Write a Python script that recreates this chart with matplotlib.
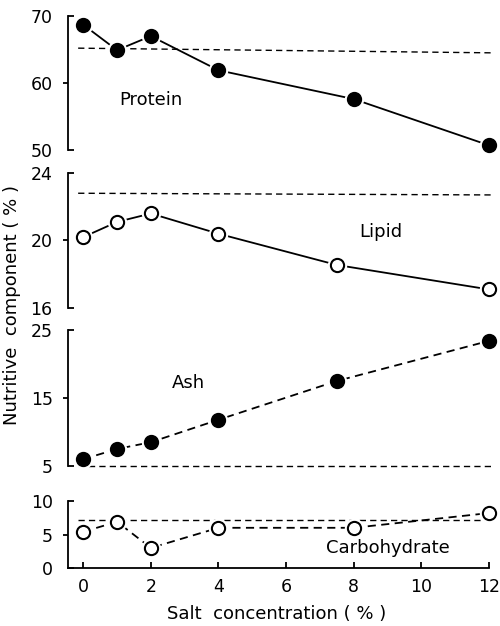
import numpy as np
import matplotlib.pyplot as plt

# salt concentration (%)
salt = [0, 1, 2, 4, 8, 12]
salt_b = [0, 1, 2, 4, 7.5, 12]

protein = [68.7, 64.9, 67.0, 61.9, 57.6, 50.7]
lipid = [20.2, 21.1, 21.6, 20.4, 18.55, 17.1]
ash = [6.0, 7.5, 8.5, 11.8, 17.5, 23.4]
carbohydrate = [5.4, 6.9, 3.0, 6.0, 6.0, 8.2]

# reference (dashed) levels at both ends
ref_x = [-0.15, 12.1]
protein_ref = [65.2, 64.5]
lipid_ref = [22.8, 22.7]
ash_ref = [5.0, 5.0]
carb_ref = [7.2, 7.2]

fig = plt.figure(figsize=(5, 6.26), dpi=100)

W, H = 500, 626
left, right = 68 / W, 489 / W


def make_ax(top_px, bot_px):
    return fig.add_axes([left, 1 - bot_px / H, right - left, (bot_px - top_px) / H])


panels = [
    # (top px, bottom px, ylim, end ticks, mid tick, x, y, filled, linestyle, ref, label, label pos)
    (16, 150, (50, 70), [50, 70], [60], salt, protein, True, '-', protein_ref, 'Protein', (2.0, 57.5)),
    (173, 308, (16, 24), [16, 24], [20], salt_b, lipid, False, '-', lipid_ref, 'Lipid', (8.8, 20.5)),
    (330, 466, (5, 25), [5, 25], [15], salt_b, ash, True, '--', ash_ref, 'Ash', (3.1, 17.2)),
    (501, 568, (0, 10), [0, 10], [5], salt, carbohydrate, False, '--', carb_ref, 'Carbohydrate', (9.0, 3.0)),
]

axes = []
for (tp, bp, ylim, ends, mid, xs, ys, filled, ls, ref, name, lpos) in panels:
    ax = make_ax(tp, bp)
    axes.append(ax)
    ax.set_xlim(-0.45, 12)
    ax.set_ylim(*ylim)
    for s in ['top', 'right', 'bottom']:
        ax.spines[s].set_visible(False)
    ax.spines['left'].set_linewidth(1.3)

    ax.set_yticks(ends)
    ax.set_yticks(mid, minor=True)
    ax.set_yticklabels([str(v) for v in ends], fontsize=12.5)
    ax.set_yticklabels([str(v) for v in mid], minor=True, fontsize=12.5)
    ax.tick_params(axis='y', which='major', direction='in', length=4, width=1.3, pad=11)
    ax.tick_params(axis='y', which='minor', direction='out', length=3.5, width=1.3, pad=7.5)
    ax.set_xticks([])

    # reference line
    ax.plot(ref_x, ref, color='black', lw=1.0, dashes=(4.5, 3), clip_on=False)

    # data line
    if ls == '-':
        ax.plot(xs, ys, color='black', lw=1.3, clip_on=False)
    else:
        ax.plot(xs, ys, color='black', lw=1.3, dashes=(4.5, 3), clip_on=False)
    # white halo gives the gap between line and marker
    ax.plot(xs, ys, 'o', ms=13, mfc='white', mec='white', clip_on=False, zorder=3)
    ax.plot(xs, ys, 'o', ms=9.5, mfc='black' if filled else 'white', mec='black',
            mew=1.5, clip_on=False, zorder=4)

    ax.text(lpos[0], lpos[1], name, ha='center', va='center', fontsize=13)

# bottom axis
axb = axes[-1]
axb.spines['bottom'].set_visible(True)
axb.spines['bottom'].set_linewidth(1.3)
axb.set_xticks([0, 2, 4, 6, 8, 10, 12])
axb.set_xticklabels(['0', '2', '4', '6', '8', '10', '12'], fontsize=12.5)
axb.tick_params(axis='x', direction='in', length=4, width=1.3, pad=7)

fig.text(277 / W, 1 - 614 / H, 'Salt  concentration ( % )',
         ha='center', va='center', fontsize=13)
fig.text(12 / W, 1 - 305 / H, 'Nutritive  component ( % )', rotation=90,
         ha='center', va='center', fontsize=13)

fig.savefig('out.png', dpi=100)
